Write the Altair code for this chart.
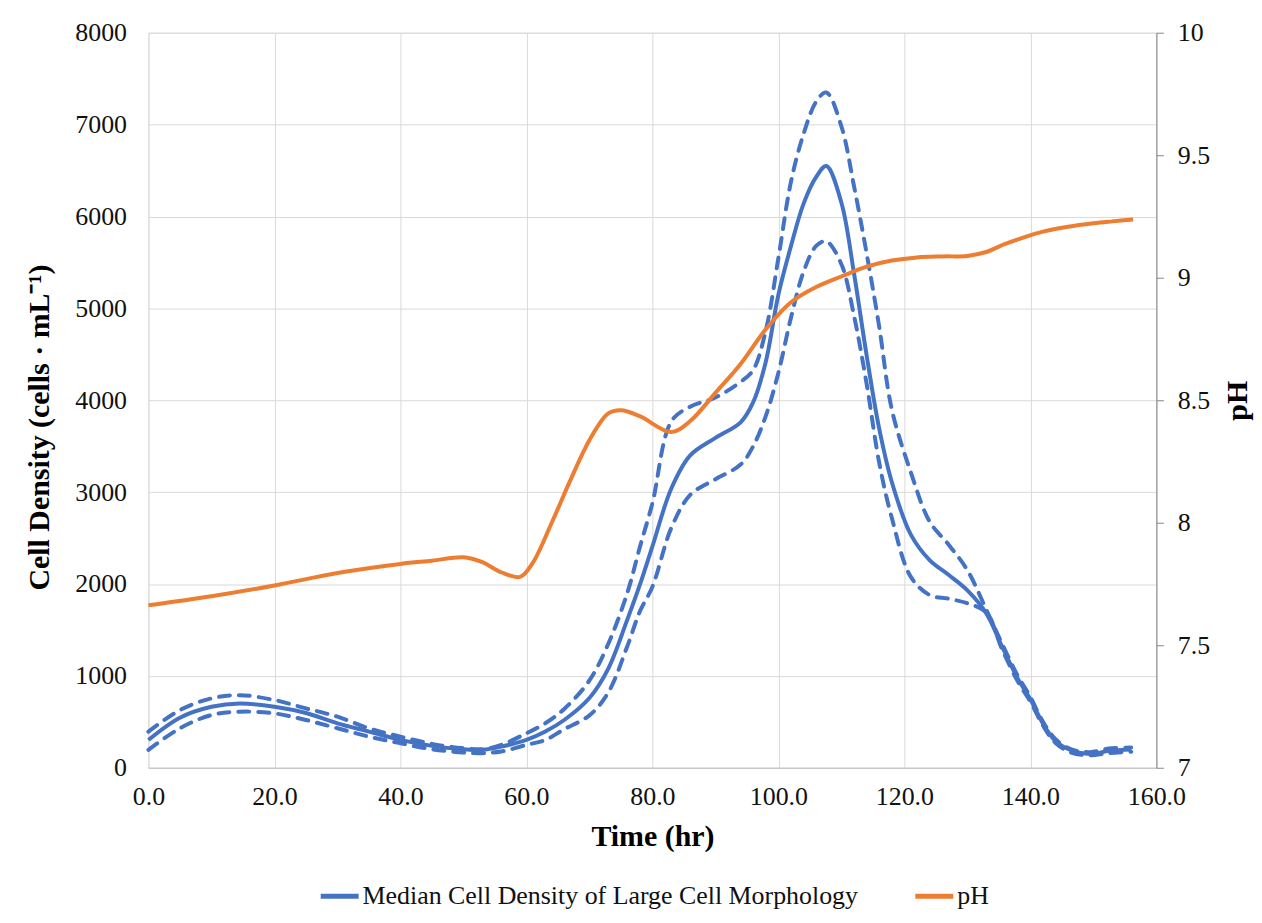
import altair as alt
import pandas as pd

# ---- data ----
time_cd = [0, 5, 10, 14.5, 20, 25, 30, 35, 40, 45, 50, 53, 56, 60, 63, 66, 70, 73, 76, 78,
           80, 83, 86, 90, 94, 96, 98, 100, 102, 104, 106, 107.6, 110, 112, 114, 116, 118,
           121, 124, 127, 130, 133, 135.5, 138, 140, 142, 144, 146.5, 149.5, 152.5, 156]
median = [303, 545, 664, 700, 664, 596, 484, 394, 303, 238, 202, 195, 230, 303, 394, 520, 760, 1080, 1610, 1990,
          2410, 3040, 3400, 3590, 3760, 3980, 4420, 5150, 5680, 6140, 6430, 6550, 6150, 5380, 4490, 3690, 3110,
          2540, 2260, 2100, 1930, 1680, 1320, 970, 745, 480, 290, 190, 150, 185, 200]
upper = [393, 628, 755, 790, 737, 646, 556, 429, 339, 260, 213, 202, 249, 375, 484, 640, 950, 1350, 1900, 2400,
         2880, 3770, 3930, 4030, 4200, 4330, 4760, 5550, 6380, 6900, 7250, 7350, 6980, 6330, 5600, 4800, 3900,
         3220, 2680, 2430, 2150, 1720, 1350, 1000, 770, 500, 310, 200, 170, 210, 220]
lower = [195, 430, 574, 610, 592, 520, 430, 339, 267, 202, 166, 159, 177, 249, 303, 420, 570, 820, 1320, 1700,
         1970, 2610, 2970, 3140, 3300, 3500, 3830, 4300, 4900, 5400, 5680, 5730, 5480, 4920, 4180, 3320, 2720,
         2080, 1880, 1840, 1790, 1690, 1290, 940, 720, 460, 270, 165, 135, 160, 175]

time_ph = [0, 10, 20, 30, 40, 45, 50, 53, 56, 59, 61, 64, 67, 70, 73, 75, 78, 83, 86, 90, 94, 98,
           102, 106, 110, 114, 118, 122, 126, 130, 133, 136, 139, 142, 146, 150, 153, 156.3]
ph = [7.663, 7.700, 7.744, 7.795, 7.832, 7.845, 7.859, 7.839, 7.798, 7.779, 7.836, 7.999, 8.175, 8.337,
      8.446, 8.459, 8.435, 8.370, 8.415, 8.530, 8.648, 8.790, 8.900, 8.962, 9.005, 9.045, 9.070, 9.083,
      9.087, 9.089, 9.105, 9.138, 9.165, 9.188, 9.208, 9.222, 9.230, 9.238]

x_ticks = [0, 20, 40, 60, 80, 100, 120, 140, 160]
left_ticks = [0, 1000, 2000, 3000, 4000, 5000, 6000, 7000, 8000]
right_ticks = [7, 7.5, 8, 8.5, 9, 9.5, 10]

MED = "Median Cell Density of Large Cell Morphology"
PH = "pH"
BLUE = "#4472C4"
ORANGE = "#ED7D31"
FONT = "Liberation Serif"
CURVE = "catmull-rom"
LBL = 26
TTL = 30

df_med = pd.DataFrame({"t": time_cd, "v": median, "series": MED})
df_band = pd.concat([
    pd.DataFrame({"t": time_cd, "v": upper, "bound": "upper"}),
    pd.DataFrame({"t": time_cd, "v": lower, "bound": "lower"}),
])
df_ph = pd.DataFrame({"t": time_ph, "v": ph, "series": PH})

x_enc = alt.X("t:Q", scale=alt.Scale(domain=[0, 160], nice=False),
              axis=alt.Axis(values=x_ticks, format=".1f", grid=True, gridColor="#D9D9D9",
                            domain=True, domainColor="#BFBFBF", ticks=False, labelPadding=16,
                            labelFlush=False,
                            labelFontSize=LBL, labelColor="#111111", labelFont=FONT,
                            title="Time (hr)", titleFont=FONT, titleFontSize=TTL, titleFontWeight="bold",
                            titleColor="#000000", titleY=69, titleBaseline="middle"))

left_axis = alt.Axis(values=left_ticks, format="d", grid=True, gridColor="#D9D9D9", domain=False,
                     ticks=False, labelFlush=False,
                     labelPadding=22, labelFontSize=LBL, labelColor="#111111", labelFont=FONT,
                     title="Cell Density (cells · mL⁻¹)", titleFont=FONT, titleFontSize=TTL,
                     titleFontWeight="bold", titleColor="#000000", titleAngle=270,
                     titleX=-109, titleY=396, titleBaseline="middle")
y_left_scale = alt.Scale(domain=[0, 8000], nice=False)

color_scale = alt.Scale(domain=[MED, PH], range=[BLUE, ORANGE])
legend = alt.Legend(orient="none", legendX=170, legendY=845, direction="horizontal", title=None,
                    symbolType="stroke", symbolSize=1450, symbolStrokeWidth=5, labelFontSize=LBL,
                    labelFont=FONT, labelColor="#111111", columnPadding=46, labelOffset=1, labelLimit=0)

dashed = alt.Chart(df_band).mark_line(
    interpolate=CURVE, strokeWidth=4, strokeDash=[11, 9], strokeCap="round", color=BLUE
).encode(
    x=x_enc,
    y=alt.Y("v:Q", scale=y_left_scale, axis=left_axis),
    detail="bound:N",
)

solid = alt.Chart(df_med).mark_line(interpolate=CURVE, strokeWidth=4).encode(
    x=x_enc,
    y=alt.Y("v:Q", scale=y_left_scale, axis=left_axis),
    color=alt.Color("series:N", scale=color_scale, legend=legend),
)

ph_line = alt.Chart(df_ph).mark_line(interpolate=CURVE, strokeWidth=4).encode(
    x=x_enc,
    y=alt.Y("v:Q", scale=alt.Scale(domain=[7, 10], nice=False),
            axis=alt.Axis(values=right_ticks, format="~g", orient="right", grid=False, domain=True,
                          domainColor="#868686", ticks=True, tickColor="#868686", tickSize=7,
                          labelFlush=False,
                          labelPadding=14, labelFontSize=LBL, labelColor="#111111", labelFont=FONT,
                          title="pH", titleFont=FONT, titleFontSize=TTL, titleFontWeight="bold",
                          titleColor="#000000", titleAngle=270, titleX=81, titleY=369,
                          titleBaseline="middle")),
    color=alt.Color("series:N", scale=color_scale, legend=legend),
)

left = alt.layer(dashed, solid)
chart = alt.layer(left, ph_line).resolve_scale(y="independent").properties(
    width=1012, height=738,
    autosize=alt.AutoSizeParams(type="none"),
    padding={"left": 141, "top": 23, "right": 98, "bottom": 144},
).configure_view(stroke=None).configure(font=FONT)

chart.save("out.html", embed_options={"renderer": "svg", "actions": False})
